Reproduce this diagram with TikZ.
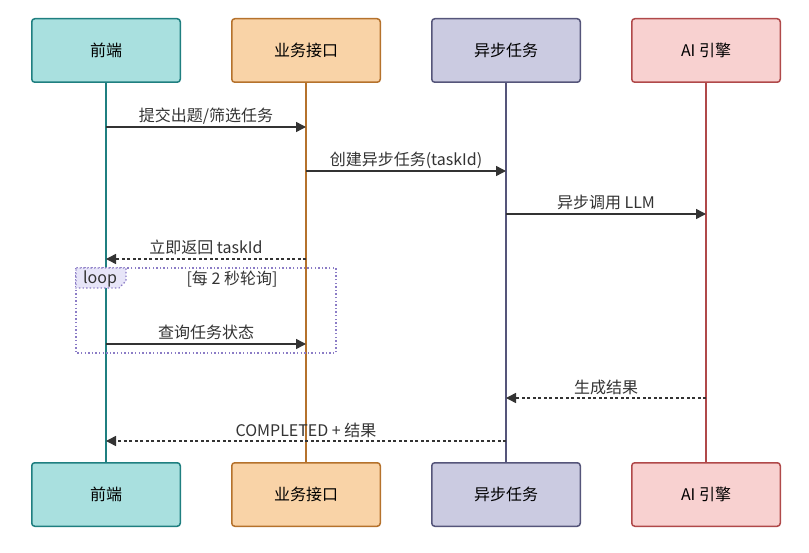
\documentclass[tikz,border=0pt]{standalone}
\usepackage{fontspec}
\setmainfont{Noto Sans CJK SC}
\usepackage{tikz}
\usetikzlibrary{arrows.meta,positioning}

\definecolor{feBorder}{HTML}{1F7F80}
\definecolor{feFill}{HTML}{A9E0DF}
\definecolor{apiBorder}{HTML}{B5722C}
\definecolor{apiFill}{HTML}{F9D3A7}
\definecolor{taskBorder}{HTML}{55557A}
\definecolor{taskFill}{HTML}{CBCBE1}
\definecolor{aiBorder}{HTML}{B0494A}
\definecolor{aiFill}{HTML}{F8D1D0}
\definecolor{loopBorder}{HTML}{8B7CC6}
\definecolor{loopFill}{HTML}{E7E5F8}
\definecolor{msgColor}{HTML}{333333}

\tikzset{
  actor/.style={draw, line width=1.5pt, rounded corners=3pt, minimum width=148.5pt,
    minimum height=63.5pt, font=\fontsize{16}{18}\selectfont},
  life/.style={line width=1.6pt},
  msg/.style={draw=msgColor, line width=1.5pt, -{Triangle[length=10pt,width=10pt]}},
  reply/.style={msg, dashed, dash pattern=on 3pt off 2.5pt},
  lbl/.style={anchor=base, inner sep=0pt, yshift=5pt, text=msgColor, font=\fontsize{16}{18}\selectfont},
  frame/.style={loopBorder, line width=1.4pt, dash pattern=on 1.4pt off 2.2pt}
}

\begin{document}
\begin{tikzpicture}[x=1pt,y=-1pt]
  \useasboundingbox (0,0) rectangle (809,553);

  % participants
  \node[actor, draw=feBorder, fill=feFill] (feTop) at (106,50.5) {前端};
  \node[actor, draw=apiBorder, fill=apiFill, right=50pt of feTop] (apiTop) {业务接口};
  \node[actor, draw=taskBorder, fill=taskFill, right=50pt of apiTop] (taskTop) {异步任务};
  \node[actor, draw=aiBorder, fill=aiFill, right=50pt of taskTop] (aiTop) {AI 引擎};

  \node[actor, draw=feBorder, fill=feFill] (feBot) at (106,494.5) {前端};
  \node[actor, draw=apiBorder, fill=apiFill, right=50pt of feBot] (apiBot) {业务接口};
  \node[actor, draw=taskBorder, fill=taskFill, right=50pt of apiBot] (taskBot) {异步任务};
  \node[actor, draw=aiBorder, fill=aiFill, right=50pt of taskBot] (aiBot) {AI 引擎};

  % lifelines
  \draw[life, feBorder] (feTop) -- (feBot);
  \draw[life, apiBorder] (apiTop) -- (apiBot);
  \draw[life, taskBorder] (taskTop) -- (taskBot);
  \draw[life, aiBorder] (aiTop) -- (aiBot);

  % loop frame
  \draw[frame] (76,268) rectangle (336,353);
  \draw[frame, fill=loopFill]
    (76,268) -- (126,268) -- (126,281) -- (119,288) -- (76,288) -- cycle;
  \node[text=msgColor, font=\fontsize{16}{18}\selectfont] (loopTag) at (100,278.5) {loop};
  \node[text=msgColor, font=\fontsize{16}{18}\selectfont] (loopCond) at (232,279.5) {[每 2 秒轮询]};

  % messages
  \draw[msg] (feTop |- 0,127) -- node[lbl] {提交出题/筛选任务} (apiTop |- 0,127);
  \draw[msg] (apiTop |- 0,171) -- node[lbl] {创建异步任务(taskId)} (taskTop |- 0,171);
  \draw[msg] (taskTop |- 0,214) -- node[lbl] {异步调用 LLM} (aiTop |- 0,214);
  \draw[reply] (apiTop |- 0,259) -- node[lbl] {立即返回 taskId} (feTop |- 0,259);
  \draw[msg] (feTop |- 0,344) -- node[lbl] {查询任务状态} (apiTop |- 0,344);
  \draw[reply] (aiTop |- 0,398) -- node[lbl] {生成结果} (taskTop |- 0,398);
  \draw[reply] (taskTop |- 0,441) -- node[lbl] {COMPLETED + 结果} (feTop |- 0,441);
\end{tikzpicture}
\end{document}
